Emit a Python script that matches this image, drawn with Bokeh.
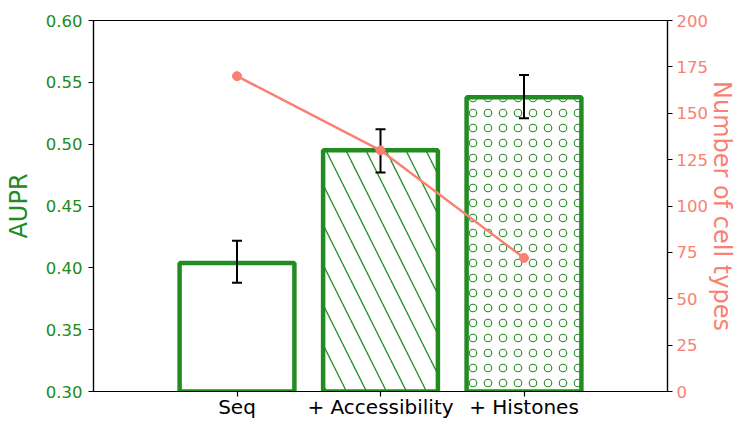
from bokeh.plotting import figure
from bokeh.models import (Range1d, LinearAxis, ColumnDataSource,
                          FixedTicker, NumeralTickFormatter)
from bokeh.embed import file_html
from bokeh.resources import INLINE

# Model variants and their scores
features = ["Seq", "+ Accessibility", "+ Histones"]
aupr = [0.404, 0.495, 0.538]
aupr_low = [0.388, 0.477, 0.521]
aupr_high = [0.422, 0.512, 0.556]
n_cell_types = [170, 130, 72]
hatches = [" ", "\\", "o"]

aupr_ticks = [0.30, 0.35, 0.40, 0.45, 0.50, 0.55, 0.60]
cell_ticks = [0, 25, 50, 75, 100, 125, 150, 175, 200]

GREEN = "#228B22"
SALMON = "#FA8072"
FONT = "DejaVu Sans"

# tile size and stroke weight for each hatch pattern
hatch_tile = {" ": 40, "\\": 40, "o": 15}
hatch_stroke = {" ": 1.3, "\\": 1.3, "o": 1.1}

positions = list(range(len(features)))
src = ColumnDataSource(dict(x=positions, top=aupr, low=aupr_low, high=aupr_high,
                            cells=n_cell_types, hatch=hatches,
                            tile=[hatch_tile[h] for h in hatches],
                            stroke=[hatch_stroke[h] for h in hatches]))

p = figure(width=738, height=421, output_backend="svg", toolbar_location=None,
           x_range=Range1d(-1, 3), y_range=Range1d(0.30, 0.60),
           min_border_left=93, min_border_right=70,
           min_border_top=20, min_border_bottom=30)
p.extra_y_ranges = {"cells": Range1d(0, 200)}
p.grid.visible = False
p.outline_line_color = "black"
p.outline_line_width = 1.2
p.background_fill_color = "white"

# Bars, clipped at the bottom of the AUPR range
p.vbar(x="x", top="top", bottom=0, width=0.8, source=src,
       fill_color="white", line_color=GREEN, line_width=4.5,
       hatch_pattern="hatch", hatch_color=GREEN, hatch_scale="tile",
       hatch_weight="stroke")

# Error bars with caps
p.segment(x0="x", y0="low", x1="x", y1="high", source=src,
          line_color="black", line_width=2)
p.scatter("x", "low", source=src, marker="dash", size=10,
          line_color="black", line_width=2)
p.scatter("x", "high", source=src, marker="dash", size=10,
          line_color="black", line_width=2)

# Number of cell types on the secondary axis
p.line("x", "cells", source=src, y_range_name="cells", line_color=SALMON, line_width=2.5)
p.scatter("x", "cells", source=src, y_range_name="cells", size=9,
          fill_color=SALMON, line_color=SALMON)

def style_axis(ax, color, tick_size):
    ax.axis_line_color = "black"
    ax.axis_line_width = 1.2
    ax.major_tick_line_color = "black"
    ax.major_tick_line_width = 1.2
    ax.major_tick_out = 5
    ax.major_tick_in = 0
    ax.minor_tick_line_color = None
    ax.major_label_text_color = color
    ax.major_label_text_font = FONT
    ax.major_label_text_font_size = tick_size
    ax.axis_label_text_font = FONT
    ax.axis_label_text_font_style = "normal"
    ax.axis_label_text_font_size = "24px"
    ax.axis_label_text_color = color

xa = p.xaxis[0]
xa.ticker = FixedTicker(ticks=positions)
xa.major_label_overrides = {i: f for i, f in zip(positions, features)}
style_axis(xa, "black", "20px")
xa.major_label_standoff = -2

ya = p.yaxis[0]
ya.ticker = FixedTicker(ticks=aupr_ticks)
ya.formatter = NumeralTickFormatter(format="0.00")
ya.axis_label = "AUPR"
style_axis(ya, GREEN, "16.5px")
ya.major_label_standoff = 6
ya.axis_label_standoff = 10

ra = LinearAxis(y_range_name="cells", axis_label="Number of cell types",
                ticker=FixedTicker(ticks=cell_ticks))
style_axis(ra, SALMON, "16.5px")
ra.major_label_standoff = 4
ra.axis_label_standoff = -3
p.add_layout(ra, "right")

open("out.html", "w").write(file_html(p, INLINE))
